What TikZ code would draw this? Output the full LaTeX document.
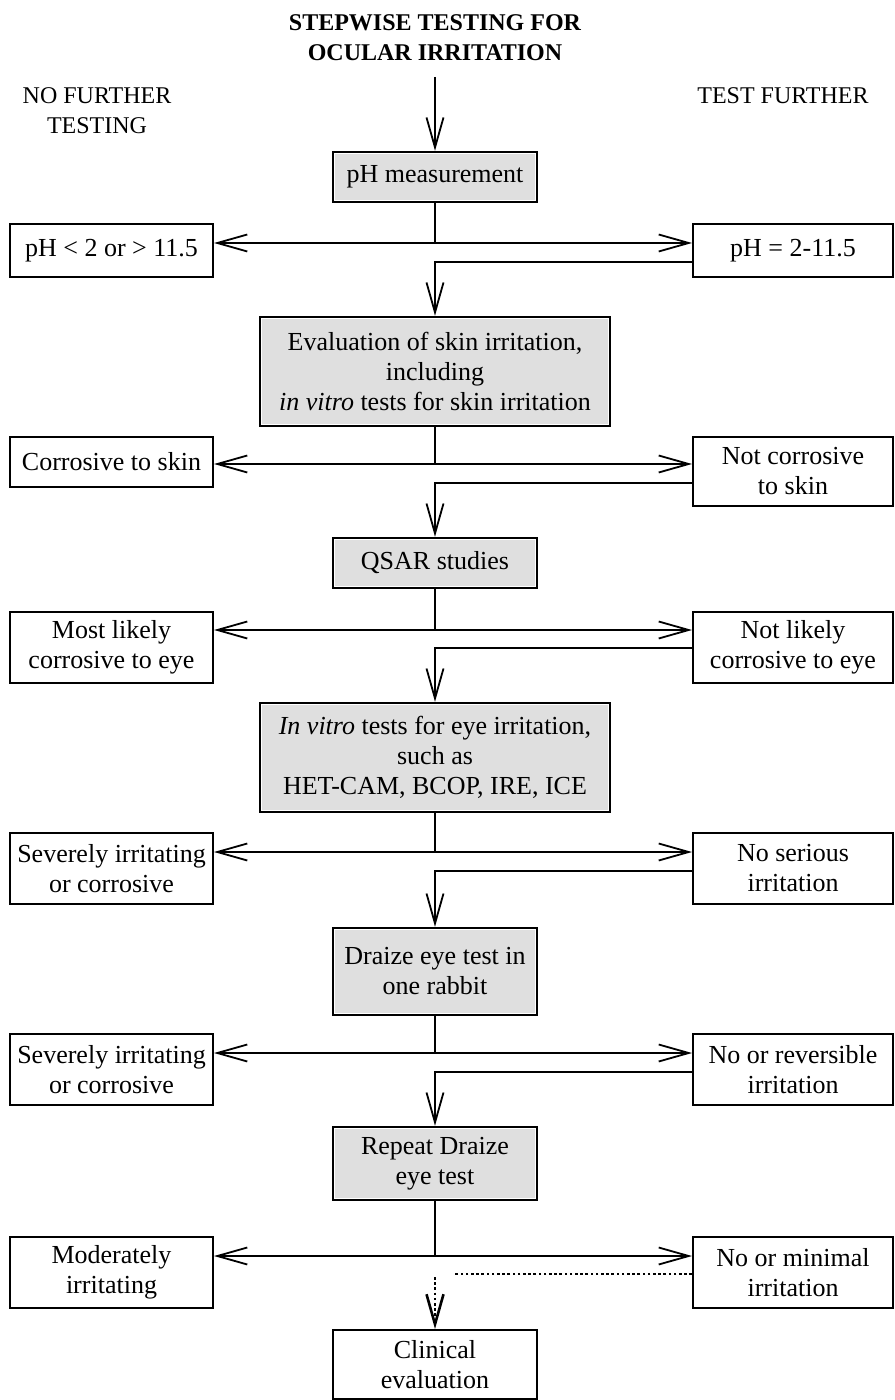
\documentclass[tikz,border=0pt]{standalone}
\usepackage{fontspec}
\setmainfont{Liberation Serif}
\usetikzlibrary{arrows.meta}

\tikzset{
	arr/.style={-{Straight Barb[length=15pt,width=8.5pt]}, line width=0.9pt},
	dotarr/.style={-{Straight Barb[length=15pt,width=8.5pt]}, line width=1.3pt, dash pattern=on 1.3pt off 1.3pt},
	dotline/.style={line width=1.3pt, dash pattern=on 1.3pt off 1.3pt},
	graybox/.style={draw, line width=1.2pt, fill=gray!25, inner sep=0pt, align=center,
		path picture={\draw[white, line width=2.4pt] (path picture bounding box.south west) rectangle (path picture bounding box.north east);}},
	plainbox/.style={draw, line width=1pt, fill=white, inner sep=0pt, align=center},
}

\begin{document}
\begin{tikzpicture}[x=0.5pt, y=-0.5pt, font=\fontsize{13}{15}\selectfont]
		\useasboundingbox (0,0) rectangle (894,1400);

		% headings
		\draw (435,38) node[align=center, font=\fontsize{12}{15}\selectfont\bfseries] (title) {STEPWISE TESTING FOR\\OCULAR IRRITATION};
		\draw (97,111) node[align=center, font=\fontsize{12}{15}\selectfont] (nohead) {NO FURTHER\\TESTING};
		\draw (783,96) node[font=\fontsize{12}{15}\selectfont] (yeshead) {TEST FURTHER};

		% central steps
		\draw (435,177) node[graybox, minimum width=102pt, minimum height=25pt] (step1) {pH measurement};
		\draw (435,371.5) node[graybox, minimum width=175pt, minimum height=54.5pt] (step2) {Evaluation of skin irritation,\\including\\\textit{in vitro} tests for skin irritation};
		\draw (435,563) node[graybox, minimum width=102pt, minimum height=25pt] (step3) {QSAR studies};
		\draw (435,757.5) node[graybox, minimum width=175pt, minimum height=54.5pt] (step4) {\textit{In vitro} tests for eye irritation,\\such as\\HET-CAM, BCOP, IRE, ICE};
		\draw (435,971.5) node[graybox, minimum width=102pt, minimum height=43.5pt] (step5) {Draize eye test in\\one rabbit};
		\draw (435,1163.5) node[graybox, minimum width=102pt, minimum height=36.5pt] (step6) {Repeat Draize\\eye test};
		\draw (435,1364.5) node[plainbox, minimum width=102pt, minimum height=34.5pt] (step7) {Clinical\\evaluation};

		% no further testing
		\draw (111.5,250.5) node[plainbox, minimum width=101.5pt, minimum height=26.5pt] (no1) {pH < 2 or > 11.5};
		\draw (111.5,462) node[plainbox, minimum width=101.5pt, minimum height=25pt] (no2) {Corrosive to skin};
		\draw (111.5,647.5) node[plainbox, minimum width=101.5pt, minimum height=35.5pt] (no3) {Most likely\\corrosive to eye};
		\draw (111.5,868.5) node[plainbox, minimum width=101.5pt, minimum height=35.5pt] (no4) {Severely irritating\\or corrosive};
		\draw (111.5,1069.5) node[plainbox, minimum width=101.5pt, minimum height=35.5pt] (no5) {Severely irritating\\or corrosive};
		\draw (111.5,1272.5) node[plainbox, minimum width=101.5pt, minimum height=35.5pt] (no6) {Moderately\\irritating};

		% test further
		\draw (793,250.5) node[plainbox, minimum width=100pt, minimum height=26.5pt] (yes1) {pH = 2-11.5};
		\draw (793,471.5) node[plainbox, minimum width=100pt, minimum height=34.5pt] (yes2) {Not corrosive\\to skin};
		\draw (793,647.5) node[plainbox, minimum width=100pt, minimum height=35.5pt] (yes3) {Not likely\\corrosive to eye};
		\draw (793,868.5) node[plainbox, minimum width=100pt, minimum height=35.5pt] (yes4) {No serious\\irritation};
		\draw (793,1069.5) node[plainbox, minimum width=100pt, minimum height=35.5pt] (yes5) {No or reversible\\irritation};
		\draw (793,1272.5) node[plainbox, minimum width=100pt, minimum height=35.5pt] (yes6) {No or minimal\\irritation};

		% split and turn points
		\coordinate (start) at (435,77);
		\coordinate (split1) at (435,243);
		\coordinate (turn1) at (435,262);
		\coordinate (split2) at (435,464);
		\coordinate (turn2) at (435,483);
		\coordinate (split3) at (435,630);
		\coordinate (turn3) at (435,648);
		\coordinate (split4) at (435,852);
		\coordinate (turn4) at (435,871);
		\coordinate (split5) at (435,1053);
		\coordinate (turn5) at (435,1072);
		\coordinate (split6) at (435,1256);
		\coordinate (dotend) at (453,1274);
		\coordinate (dotstart) at (435,1277);

		\draw [arr] (start) -- (step1.north);

		\draw [line width=0.9pt] (step1.south) -- (split1);
		\draw [arr] (split1) -- (no1.east |- split1);
		\draw [arr] (split1) -- (yes1.west |- split1);
		\draw [arr] (yes1.west |- turn1) -| (step2.north);

		\draw [line width=0.9pt] (step2.south) -- (split2);
		\draw [arr] (split2) -- (no2.east |- split2);
		\draw [arr] (split2) -- (yes2.west |- split2);
		\draw [arr] (yes2.west |- turn2) -| (step3.north);

		\draw [line width=0.9pt] (step3.south) -- (split3);
		\draw [arr] (split3) -- (no3.east |- split3);
		\draw [arr] (split3) -- (yes3.west |- split3);
		\draw [arr] (yes3.west |- turn3) -| (step4.north);

		\draw [line width=0.9pt] (step4.south) -- (split4);
		\draw [arr] (split4) -- (no4.east |- split4);
		\draw [arr] (split4) -- (yes4.west |- split4);
		\draw [arr] (yes4.west |- turn4) -| (step5.north);

		\draw [line width=0.9pt] (step5.south) -- (split5);
		\draw [arr] (split5) -- (no5.east |- split5);
		\draw [arr] (split5) -- (yes5.west |- split5);
		\draw [arr] (yes5.west |- turn5) -| (step6.north);

		\draw [line width=0.9pt] (step6.south) -- (split6);
		\draw [arr] (split6) -- (no6.east |- split6);
		\draw [arr] (split6) -- (yes6.west |- split6);

		% dotted route to clinical evaluation
		\draw [dotline] (yes6.west |- dotend) -- (dotend);
		\draw [dotarr] (dotstart) -- (step7.north);
	\end{tikzpicture}
\end{document}
